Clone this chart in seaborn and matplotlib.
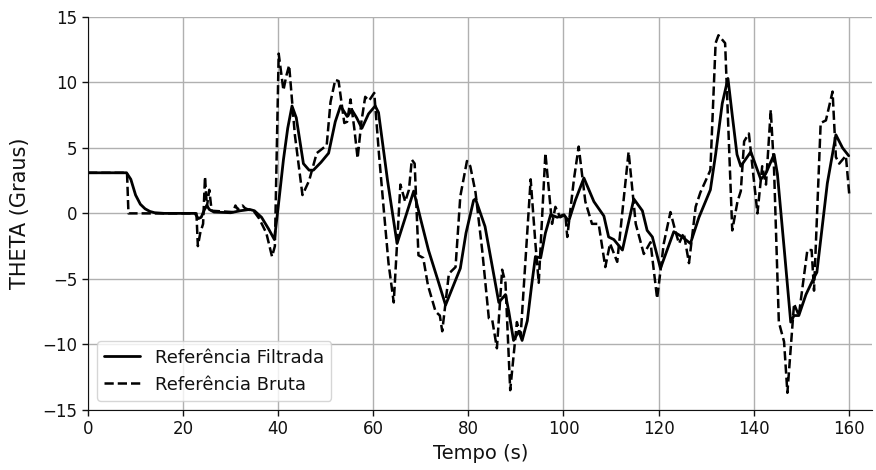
import matplotlib
matplotlib.use("Agg")
import matplotlib.pyplot as plt
import seaborn as sns
import pandas as pd

filt_t = [0, 8.1, 9, 10, 11, 12, 13, 14, 16, 22.5, 23.2, 23.8, 24.5, 25, 25.5, 26.5, 30, 32, 34, 35, 36.5, 38, 39.2,
          40, 41.1, 42, 42.9, 43.8, 45.3, 46.5, 47.4, 49, 50.6, 52, 53.1, 54.5, 55.5, 56.5, 57.6, 59, 60.4, 61.1,
          63, 65, 66.4, 68.5, 70, 71.6, 73.5, 75.2, 77.3, 78.3, 79.5, 81.1, 81.5, 83.5, 85, 86.4, 87.8, 88.5, 89.5,
          90.6, 91.3, 92.4, 93.3, 94.1, 95.2, 96.2, 97.3, 98.7, 100.1, 101.1, 102.5, 104.3, 106.4, 108.5, 109.5,
          110.6, 112.4, 113.5, 114.8, 116.6, 117.6, 118.7, 120.4, 123.2, 125, 126.7, 128.5, 130.9, 132, 133.4,
          134.6, 135.5, 136.5, 137.3, 139.4, 141.5, 142.5, 144.3, 145, 146.5, 147.8, 148.5, 149.5, 151, 152.7,
          153.3, 155.5, 157.3, 158.7, 160]
filt_v = [3.1, 3.1, 2.6, 1.4, 0.7, 0.35, 0.15, 0.05, 0, 0, -0.4, -0.3, 0.3, 0.6, 0.3, 0.1, 0.05, 0.2, 0.3, 0.2, -0.3, -1.2, -2.0,
          0.5, 4.1, 6.5, 8.2, 7.3, 3.8, 3.3, 3.3, 3.9, 4.6, 7.0, 8.2, 7.4, 7.9, 7.3, 6.5, 7.6, 8.2, 7.7,
          2.5, -2.3, -0.7, 1.7, -0.5, -2.8, -5.0, -7.0, -5.1, -4.2, -1.5, 1.0, 1.1, -1.0, -4.0, -6.8, -6.2, -7.5, -9.7,
          -9.0, -9.7, -8.2, -5.5, -3.3, -3.4, -1.5, -0.1, -0.3, -0.1, -0.6, 1.0, 2.7, 0.9, -0.2, -1.8,
          -2.0, -2.8, -1.0, 1.1, 0.2, -1.3, -1.8, -4.2, -1.4, -1.8, -2.3, -0.3, 1.8, 4.5, 8.4,
          10.3, 7.5, 4.5, 3.6, 4.7, 2.6, 3.0, 4.5, 3.0, -3.0, -8.3, -7.8, -7.8, -6.2, -4.9,
          -4.5, 2.3, 6.0, 5.0, 4.4]

raw_t = [0, 8.2, 8.5, 22.8, 23.1, 23.6, 24.2, 24.6, 25, 25.5, 26, 30.5, 31, 31.5, 32.5, 33, 35, 36, 37.5, 38.7, 39.3,
         40.1, 41.1, 41.7, 42.3, 43.5, 45.1, 46.5, 48.1, 50.2, 51.0, 52.0, 52.7, 53.9, 54.5, 55.2, 56, 56.7, 57.5,
         58.3, 59.1, 60.2, 61.2, 62.2, 63.2, 64.3, 65.7, 66.7, 67.5, 68.1, 68.7, 69.5, 70.5, 71.5, 73.1, 74.0, 74.5,
         75.9, 77.3, 78.3, 79.7, 80.4, 81.5, 82.9, 84.3, 85, 86.0, 87.1, 87.8, 88.8, 90.2, 91, 93.1, 94.1, 94.8,
         96.2, 97.6, 98.3, 99.3, 100.4, 100.8, 102.2, 103.2, 104.6, 106.0, 107.4, 108.8, 109.8, 111.3, 113.7,
         115.2, 116.9, 118.3, 119.7, 121.1, 122.5, 123.5, 124.3, 125.3, 126.4, 127.8, 128.8, 130.9, 132.0, 132.6,
         134.0, 135.5, 136.6, 137.3, 138.0, 139, 140.8, 141.8, 142.6, 143.6, 144.3, 145.3, 146.4, 147.1, 148.5,
         149.5, 151.3, 152.2, 152.7, 154.1, 155.2, 156.6, 157.3, 158, 159.4, 160.1]
raw_v = [3.1, 3.1, 0.0, 0, -2.5, -1.5, -0.8, 2.8, 0.5, 1.8, 0.2, 0.1, 0.6, 0.3, 0.6, 0.4, 0.1, -0.4, -1.5, -3.3, -2.5,
         12.2, 9.4, 10.5, 11.3, 6.0, 1.4, 2.5, 4.6, 5.2, 8.5, 10.2, 10.1, 6.9, 7.0, 8.7, 6.5, 4.2, 7.0,
         8.9, 8.6, 9.2, 4.5, 0.3, -3.8, -6.8, 2.2, 0.9, 1.8, 4.1, 3.8, -3.2, -3.4, -5.5, -7.5, -7.8, -9.0,
         -4.6, -4.1, 1.3, 4.0, 3.6, 1.6, -2.8, -8.0, -8.1, -10.3, -4.3, -5.3, -13.5, -8.3, -9.3, 2.6, -2.3, -5.3,
         4.6, -0.8, 0.5, -0.3, -0.1, -1.8, 2.6, 5.1, 0.9, -0.8, -0.8, -4.1, -2.3, -3.7, 4.7,
         -0.8, -3.1, -2.2, -6.5, -2.3, 0.1, -1.3, -2.3, -1.5, -3.8, 0.5, 1.6, 3.3, 13.0, 13.6,
         13.0, -1.3, 0.9, 1.7, 5.5, 6.1, 0.0, 3.6, 2.2, 7.9, 3.3, -8.3, -9.8, -13.7, -6.9,
         -7.8, -2.8, -2.8, -5.9, 6.9, 7.1, 9.3, 4.3, 3.8, 4.4, 1.5]

labels = ["Referência Filtrada", "Referência Bruta"]
xticks = [0, 20, 40, 60, 80, 100, 120, 140, 160]
yticks = [-15, -10, -5, 0, 5, 10, 15]

sns.set_style("ticks", {"text.color": "#111111", "axes.labelcolor": "#111111",
                        "xtick.color": "#111111", "ytick.color": "#111111",
                        "axes.edgecolor": "#111111"})
plt.rcParams['font.family'] = ['DejaVu Sans']

fig, ax = plt.subplots(figsize=(8.76, 4.70), dpi=100)
fig.subplots_adjust(left=0.1005, right=0.996, top=0.964, bottom=0.128)

df_f = pd.DataFrame({"t": filt_t, "v": filt_v})
df_r = pd.DataFrame({"t": raw_t, "v": raw_v})
sns.lineplot(data=df_f, x="t", y="v", ax=ax, color="black", linewidth=2.0,
             sort=False, estimator=None, label=labels[0])
sns.lineplot(data=df_r, x="t", y="v", ax=ax, color="black", linewidth=1.8,
             linestyle="--", sort=False, estimator=None, label=labels[1])

ax.set_xlim(0, 165)
ax.set_ylim(-15, 15)
ax.set_xticks(xticks)
ax.set_yticks(yticks)
ax.grid(True, color="#b0b0b0", linewidth=1.0)
ax.set_axisbelow(True)
sns.despine(ax=ax)
ax.tick_params(labelsize=12, length=4, width=1)
ax.set_xlabel("Tempo (s)", fontsize=14)
ax.set_ylabel("THETA (Graus)", fontsize=15)
ax.yaxis.set_label_coords(-0.074, 0.5)
leg = ax.legend(loc="lower left", fontsize=13, frameon=True, fancybox=True,
                edgecolor="#cccccc", framealpha=0.8)
fig.savefig("out.png", dpi=100)
